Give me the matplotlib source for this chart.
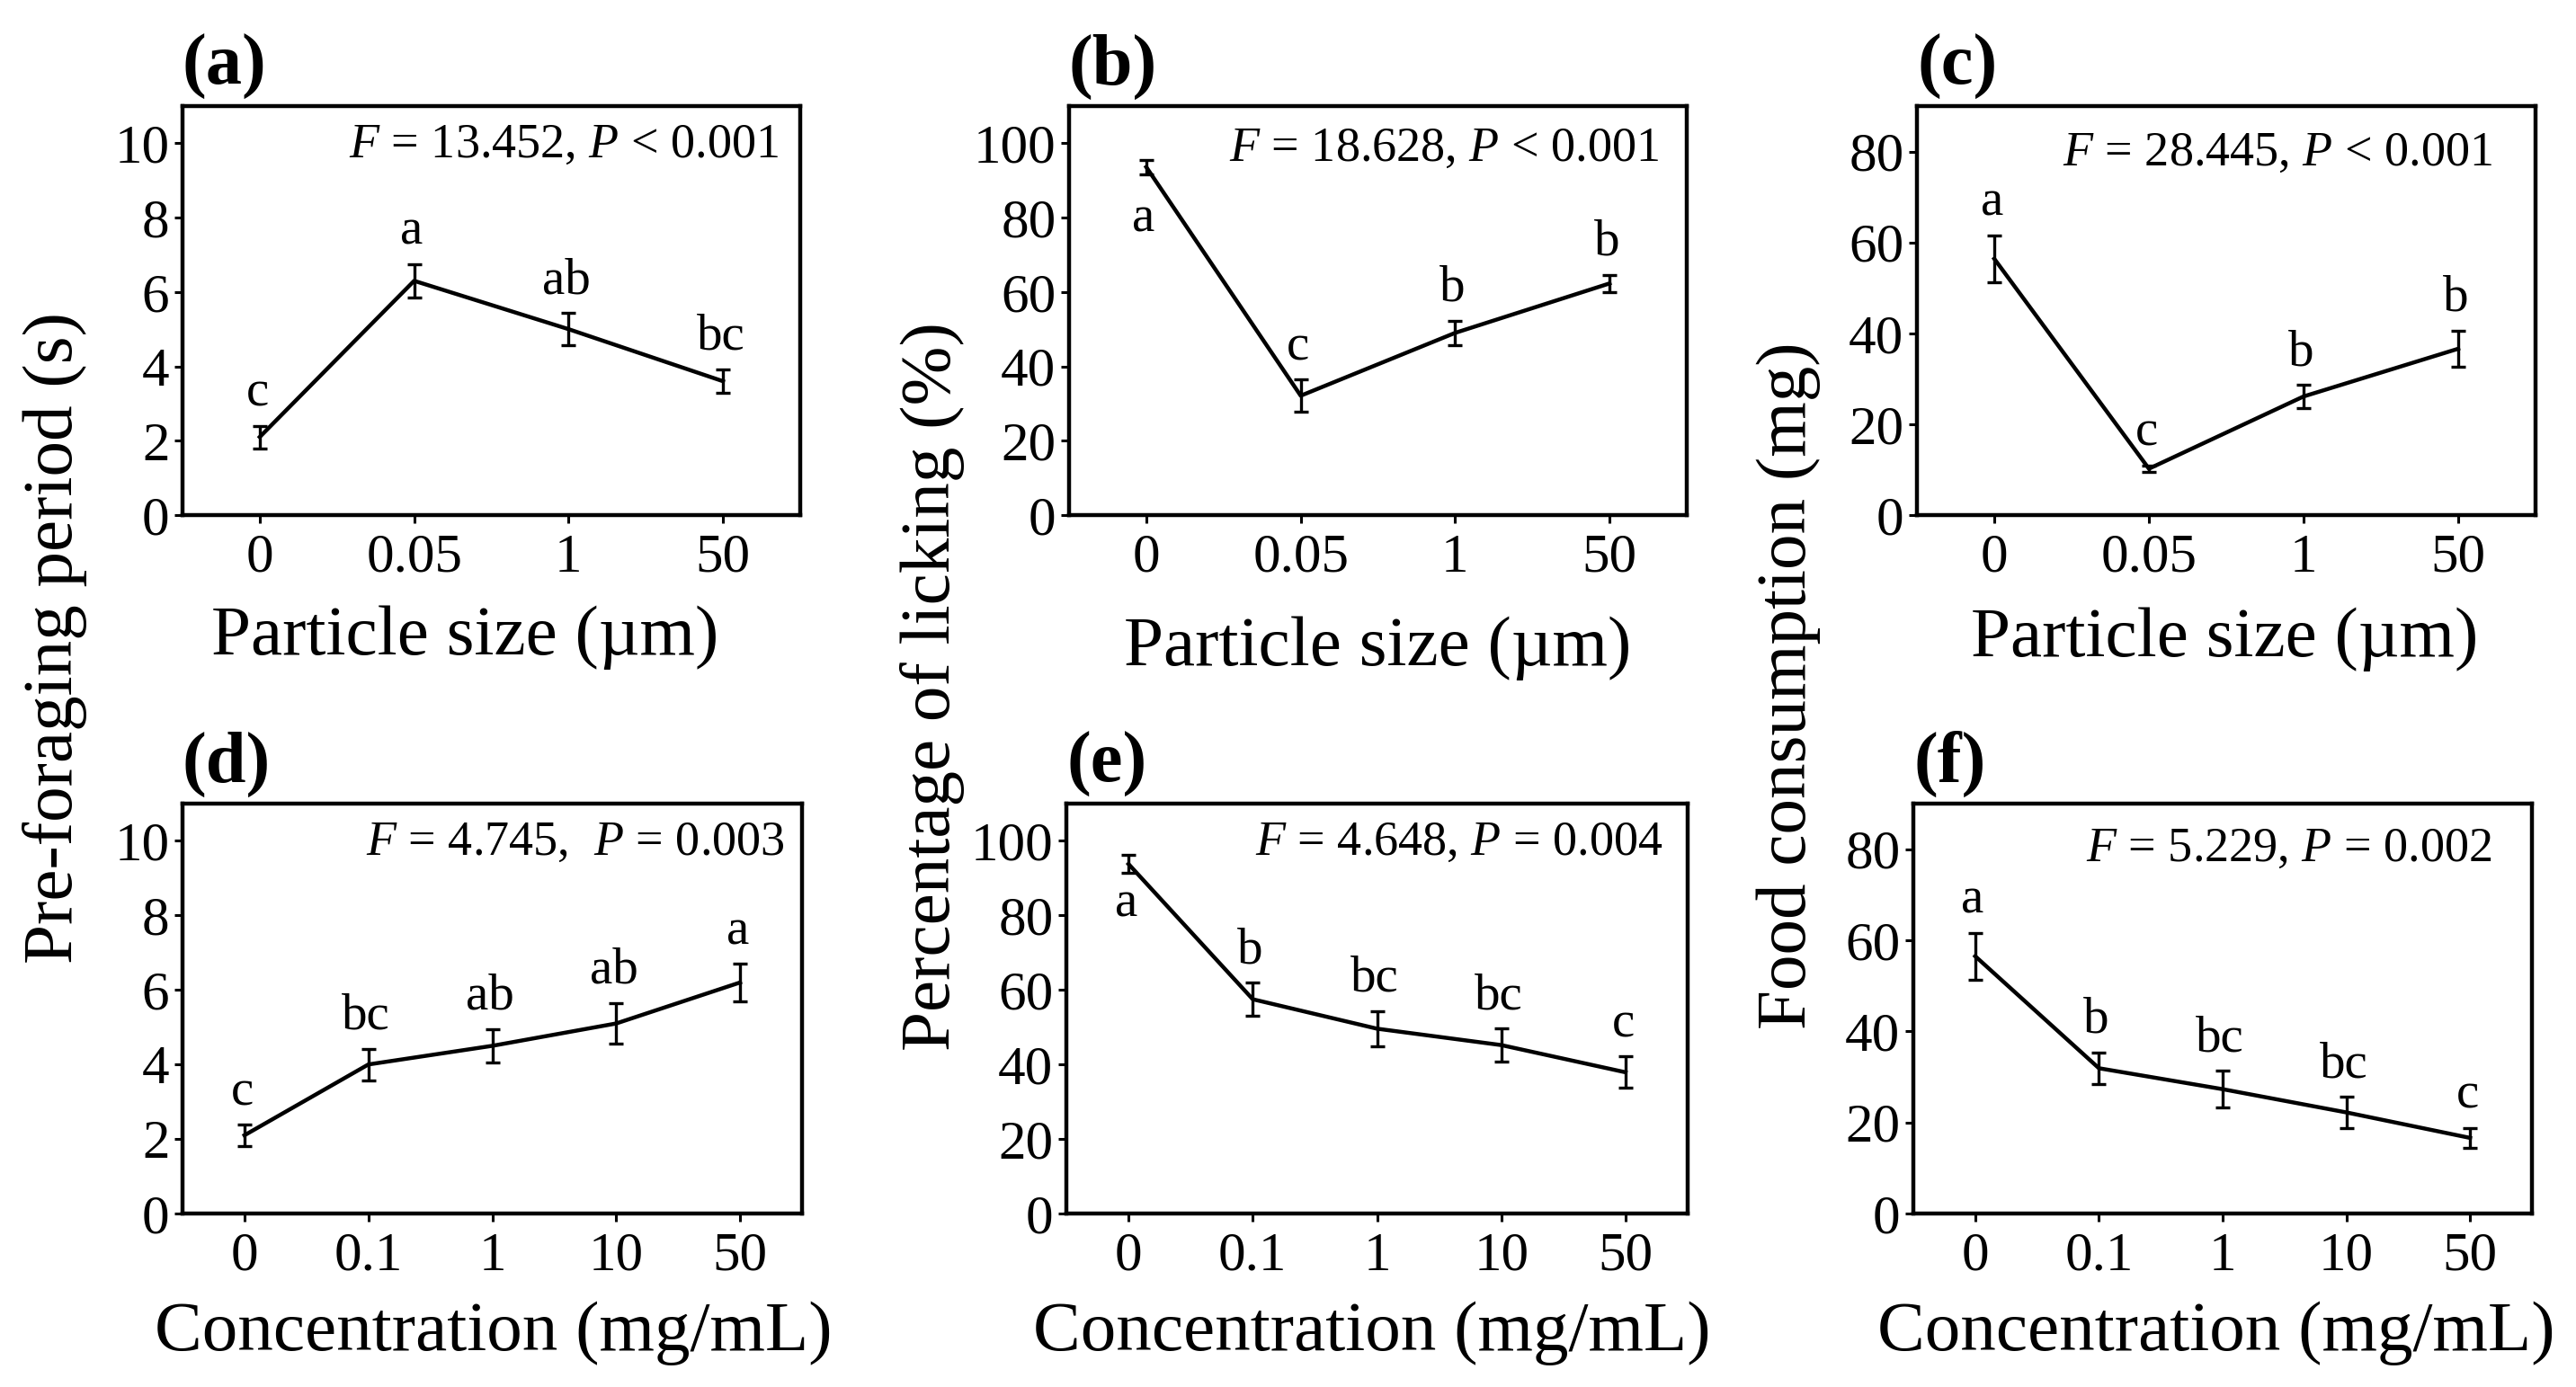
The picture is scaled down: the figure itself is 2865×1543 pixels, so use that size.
import matplotlib

matplotlib.use("Agg")  # headless
import matplotlib.pyplot as plt

plt.rcParams["font.family"] = ["Liberation Serif", "DejaVu Serif"]
plt.rcParams["mathtext.fontset"] = "custom"
plt.rcParams["mathtext.rm"] = "Liberation Serif"
plt.rcParams["mathtext.it"] = "Liberation Serif:italic"

# Categories
SIZE_LABELS = ["0", "0.05", "1", "50"]
CONC_LABELS = ["0", "0.1", "1", "10", "50"]

# Pre-foraging period (s)
PRE_SIZE_MEAN = [2.1, 6.3, 5.0, 3.6]
PRE_SIZE_SE = [0.3, 0.44, 0.43, 0.32]
PRE_SIZE_LETTERS = ["c", "a", "ab", "bc"]
PRE_CONC_MEAN = [2.1, 4.0, 4.5, 5.1, 6.2]
PRE_CONC_SE = [0.28, 0.42, 0.45, 0.54, 0.5]
PRE_CONC_LETTERS = ["c", "bc", "ab", "ab", "a"]

# Percentage of licking (%)
LICK_SIZE_MEAN = [93.6, 32.1, 49.0, 62.3]
LICK_SIZE_SE = [2.0, 4.3, 3.2, 2.3]
LICK_SIZE_LETTERS = ["a", "c", "b", "b"]
LICK_CONC_MEAN = [93.8, 57.5, 49.6, 45.2, 37.9]
LICK_CONC_SE = [2.4, 4.4, 4.7, 4.4, 4.2]
LICK_CONC_LETTERS = ["a", "b", "bc", "bc", "c"]

# Food consumption (mg)
FOOD_SIZE_MEAN = [56.4, 10.2, 26.1, 36.6]
FOOD_SIZE_SE = [5.2, 0.7, 2.5, 4.0]
FOOD_SIZE_LETTERS = ["a", "c", "b", "b"]
FOOD_CONC_MEAN = [56.5, 31.9, 27.3, 22.2, 16.6]
FOOD_CONC_SE = [5.1, 3.5, 4.0, 3.4, 2.2]
FOOD_CONC_LETTERS = ["a", "b", "bc", "bc", "c"]

STATS = {
    "a": r"$F$ = 13.452, $P$ < 0.001",
    "b": r"$F$ = 18.628, $P$ < 0.001",
    "c": r"$F$ = 28.445, $P$ < 0.001",
    "d": r"$F$ = 4.745,  $P$ = 0.003",
    "e": r"$F$ = 4.648, $P$ = 0.004",
    "f": r"$F$ = 5.229, $P$ = 0.002",
}

W, H = 2865, 1543


def rect(x0, x1, y0, y1):
    """Pixel box (top-left origin) -> figure fraction rect."""
    return [x0 / W, 1 - y1 / H, (x1 - x0) / W, (y1 - y0) / H]


# (panel, rect, labels, mean, se, letters, ylim, yticks, stats pos, letters below idx, below pad)
panels = [
    ("a", rect(203, 890, 118, 573), SIZE_LABELS, PRE_SIZE_MEAN, PRE_SIZE_SE,
     PRE_SIZE_LETTERS, 11, range(0, 11, 2), (0.965, 0.905), None, 0),
    ("b", rect(1189, 1876, 118, 573), SIZE_LABELS, LICK_SIZE_MEAN, LICK_SIZE_SE,
     LICK_SIZE_LETTERS, 110, range(0, 101, 20), (0.955, 0.895), 0, 17),
    ("c", rect(2132, 2820, 118, 573), SIZE_LABELS, FOOD_SIZE_MEAN, FOOD_SIZE_SE,
     FOOD_SIZE_LETTERS, 90, range(0, 81, 20), (0.93, 0.885), None, 0),
    ("d", rect(203, 892, 894, 1350), CONC_LABELS, PRE_CONC_MEAN, PRE_CONC_SE,
     PRE_CONC_LETTERS, 11, range(0, 11, 2), (0.972, 0.905), None, 0),
    ("e", rect(1186, 1877, 894, 1350), CONC_LABELS, LICK_CONC_MEAN, LICK_CONC_SE,
     LICK_CONC_LETTERS, 110, range(0, 101, 20), (0.96, 0.905), 0, 6),
    ("f", rect(2128, 2816, 894, 1350), CONC_LABELS, FOOD_CONC_MEAN, FOOD_CONC_SE,
     FOOD_CONC_LETTERS, 90, range(0, 81, 20), (0.935, 0.89), None, 0),
]

fig = plt.figure(figsize=(W / 100, H / 100), dpi=100)

for key, r, labels, mean, se, letters, ytop, yticks, spos, below, bpad in panels:
    ax = fig.add_axes(r)
    xs = list(range(len(labels)))
    ax.errorbar(xs, mean, yerr=se, color="black", linewidth=3.2,
                elinewidth=2.4, capsize=5.5, capthick=2.4)
    ax.set_xlim(-0.5, len(labels) - 0.5)
    ax.set_ylim(0, ytop)
    ax.set_xticks(xs)
    ax.set_xticklabels(labels)
    ax.set_yticks(list(yticks))
    ax.tick_params(direction="out", length=6.5, width=2.2, labelsize=44)
    ax.tick_params(axis="x", pad=8)
    ax.tick_params(axis="y", pad=4)
    for sp in ax.spines.values():
        sp.set_linewidth(3.2)
    for i, lt in enumerate(letters):
        if i == below:
            ax.annotate(lt, (xs[i], mean[i] - se[i]), xytext=(-2, -bpad),
                        textcoords="offset points", ha="center", va="top",
                        fontsize=41)
        else:
            ax.annotate(lt, (xs[i], mean[i] + se[i]), xytext=(-2, 16),
                        textcoords="offset points", ha="center",
                        va="baseline", fontsize=41)
    ax.text(spos[0], spos[1], STATS[key], transform=ax.transAxes,
            ha="right", va="center", fontsize=39)
    ax.text(0.0, 1.015, f"({key})", transform=ax.transAxes, ha="left",
            va="bottom", fontsize=58, fontweight="bold")

# x-axis titles
fig.text(517 / W, 1 - 728 / H, "Particle size (µm)", ha="center",
         va="baseline", fontsize=57)
fig.text(1532 / W, 1 - 740 / H, "Particle size (µm)", ha="center",
         va="baseline", fontsize=57)
fig.text(2474 / W, 1 - 730 / H, "Particle size (µm)", ha="center",
         va="baseline", fontsize=57)
for cx in (549, 1526, 2465):
    fig.text(cx / W, 1 - 1502 / H, "Concentration (mg/mL)", ha="center",
             va="baseline", fontsize=57)

# y-axis titles shared by both rows
fig.text(0.0213, 0.54, "Pre-foraging period (s)", rotation=90,
         ha="center", va="center", fontsize=57)
fig.text(0.362, 0.505, "Percentage of licking (%)", rotation=90,
         ha="center", va="center", fontsize=57)
fig.text(0.6945, 0.506, "Food consumption (mg)", rotation=90,
         ha="center", va="center", fontsize=57)

fig.savefig("out.png", dpi=100, facecolor="white")
